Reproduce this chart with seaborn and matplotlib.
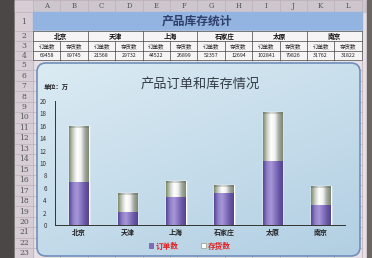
import matplotlib.pyplot as plt
import numpy as np
import pandas as pd
import seaborn as sns
from matplotlib.colors import LinearSegmentedColormap
from matplotlib.patches import FancyBboxPatch, Rectangle

CITIES = ["北京", "天津", "上海", "石家庄", "太原", "南京"]
ORDERS = [69458, 21568, 44522, 52357, 102841, 31762]
STOCK = [89745, 29732, 26899, 12694, 79826, 31822]
COL_LETTERS = list("ABCDEFGHIJKL")
SUB_HEADERS = ["订单数", "存货数"]

sns.set_theme(style="white")
plt.rcParams["font.family"] = ["Noto Sans CJK SC", "DejaVu Sans"]

W, H = 372, 258
fig = plt.figure(figsize=(W / 100, H / 100), dpi=100)
fig.patch.set_facecolor("#4a4745")

# spreadsheet background drawn in pixel coordinates
bg = fig.add_axes([0, 0, 1, 1])
bg.set_xlim(0, W)
bg.set_ylim(H, 0)
bg.axis("off")

x0, cw = 33, 27.4
col_x = [x0 + i * cw for i in range(13)]
row_y = [0, 12, 31, 41, 51, 60] + [60 + i * 10.45 for i in range(1, 20)]

bg.add_patch(Rectangle((15, 0), 352, H, color="#e7dfe4", zorder=0))
bg.add_patch(Rectangle((15, 0), 352, 12, color="#cdc7cd", zorder=0))
bg.add_patch(Rectangle((15, 0), 18, H, color="#d6ced4", zorder=0))
bg.add_patch(Rectangle((367, 0), 5, H, color="#6b6664", zorder=0))
for x in col_x:
    bg.plot([x, x], [0, H], color="#bcaeb8", lw=0.5, zorder=1)
for y in row_y:
    bg.plot([15, 362], [y, y], color="#bcaeb8", lw=0.5, zorder=1)
for i, c in enumerate(COL_LETTERS):
    bg.text(col_x[i] + cw / 2, 6, c, ha="center", va="center", fontsize=5,
            color="#555", family="DejaVu Serif")
for n in range(1, 24):
    yc = (row_y[n] + row_y[n + 1]) / 2 if n < len(row_y) - 1 else row_y[-1] + 5
    bg.text(24, yc, str(n), ha="center", va="center", fontsize=5.5,
            color="#555", family="DejaVu Serif")

# table
bg.add_patch(Rectangle((x0, 12), 12 * cw, 19, color="#93b4e0", zorder=2))
bg.text(x0 + 6 * cw, 21.5, "产品库存统计", ha="center", va="center",
        fontsize=8.5, fontweight="bold", color="#2f3e6a", zorder=3)
bg.add_patch(Rectangle((x0, 31), 12 * cw, 29, color="#f6f4f5", zorder=2))
for y in [31, 41, 51, 60]:
    bg.plot([x0, col_x[-1]], [y, y], color="#444", lw=0.5, zorder=3)
for i, x in enumerate(col_x):
    top = 31 if i % 2 == 0 else 41
    bg.plot([x, x], [top, 60], color="#444", lw=0.5, zorder=3)
for k, city in enumerate(CITIES):
    bg.text(col_x[2 * k] + cw, 36, city, ha="center", va="center",
            fontsize=4.8, fontweight="bold", color="#111", zorder=4)
    for j, lab in enumerate(SUB_HEADERS):
        bg.text(col_x[2 * k + j] + cw / 2, 46, lab, ha="center", va="center",
                fontsize=4, color="#222", zorder=4)
    for j, v in enumerate([ORDERS[k], STOCK[k]]):
        bg.text(col_x[2 * k + j] + cw / 2, 55.5, str(v), ha="center", va="center",
                fontsize=3.8, color="#222", zorder=4)

# chart panel
panel = FancyBboxPatch((37, 63), 323, 193, boxstyle="round,pad=0,rounding_size=9",
                       facecolor="none", edgecolor="#6f8fbb", lw=1.2, zorder=6)
bg.add_patch(panel)
gy, gx = np.mgrid[0:1:100j, 0:1:100j]
grad = 0.6 * gy + 0.4 * gx
panel_cmap = LinearSegmentedColormap.from_list("panel", ["#dbebf3", "#b2cfe3"])
im = bg.imshow(grad, extent=[37, 360, 256, 63], cmap=panel_cmap, aspect="auto", zorder=5)
im.set_clip_path(panel)
bg.set_xlim(0, W)
bg.set_ylim(H, 0)
bg.text(200, 84, "产品订单和库存情况", ha="center", va="center", fontsize=9.5,
        color="#333c46", zorder=7)
bg.text(44, 87, "单位：万", ha="left", va="center", fontsize=4.5,
        fontweight="bold", color="#222", zorder=7)

# chart
df = pd.DataFrame({"city": CITIES,
                   "orders": np.array(ORDERS) / 10000,
                   "total": (np.array(ORDERS) + np.array(STOCK)) / 10000})
ax = fig.add_axes([55 / W, 1 - 225 / H, 290 / W, 124 / H])
ax.set_facecolor("none")
ax.set_zorder(8)
sns.barplot(data=df, x="city", y="total", color="#ffffff", width=0.4, ax=ax)
n_stock = len(ax.patches)
sns.barplot(data=df, x="city", y="orders", color="#7d6bb5", width=0.4, ax=ax)

stock_cmap = LinearSegmentedColormap.from_list(
    "stock", ["#7f8c68", "#c9cfc4", "#ffffff", "#f2f2f2", "#a4aaa2", "#7e8870"])
order_cmap = LinearSegmentedColormap.from_list(
    "order", ["#574594", "#8f7fc8", "#a797d8", "#8a78c2", "#6a58a8", "#54438e"])
cap_cmap = LinearSegmentedColormap.from_list(
    "cap", ["#6f7a60", "#a8aea4", "#d8dad6", "#c8cbc6", "#8d958a", "#6f7a60"])
hgrad = np.linspace(0, 1, 64).reshape(1, -1)
for i, p in enumerate(ax.patches):
    cmap = stock_cmap if i < n_stock else order_cmap
    bx, by = p.get_x(), p.get_y()
    bw, bh = p.get_width(), p.get_height()
    z = p.get_zorder() + 0.1 + (0.5 if i >= n_stock else 0)
    img = ax.imshow(hgrad, extent=[bx, bx + bw, by, by + bh], cmap=cmap,
                    aspect="auto", zorder=z)
    img.set_clip_path(p)
    if i < n_stock:
        cap = ax.imshow(hgrad, extent=[bx, bx + bw, by + bh - 0.35, by + bh],
                        cmap=cap_cmap, aspect="auto", zorder=z + 0.05)
        cap.set_clip_path(p)
ax.set_xlim(-0.5, len(CITIES) - 0.5)
ax.set_ylim(0, 20)
ax.set_yticks(range(0, 21, 2))
ax.set_xlabel("")
ax.set_ylabel("")
for s in ["top", "right"]:
    ax.spines[s].set_visible(False)
for s in ["left", "bottom"]:
    ax.spines[s].set_color("#333")
    ax.spines[s].set_linewidth(0.7)
ax.tick_params(axis="y", labelsize=4.5, colors="#333", length=2, width=0.5, pad=4)
ax.tick_params(axis="x", labelsize=5, length=0, pad=3)
for t in ax.get_xticklabels():
    t.set_fontweight("bold")
    t.set_color("#222")

handles = [Rectangle((0, 0), 1, 1, facecolor="#7d6bb5", edgecolor="#574594", lw=0.4),
           Rectangle((0, 0), 1, 1, facecolor="#ffffff", edgecolor="#7f8c68", lw=0.4)]
leg = fig.legend(handles, SUB_HEADERS, loc="center", bbox_to_anchor=(190 / W, 1 - 246 / H),
                 ncol=2, frameon=False, fontsize=5.5, handlelength=0.6, handleheight=0.6,
                 handletextpad=0.3, columnspacing=3, borderpad=0)
for t in leg.get_texts():
    t.set_color("#e02020")
    t.set_fontweight("bold")
leg.set_zorder(9)

fig.savefig("out.png", dpi=100)
